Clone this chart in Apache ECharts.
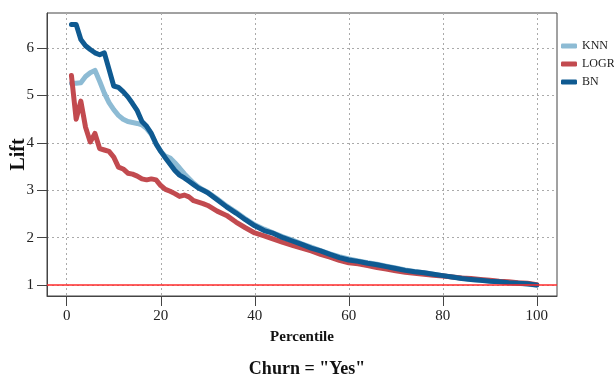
<!DOCTYPE html>
<html><head><meta charset="utf-8">
<script src="https://cdn.jsdelivr.net/npm/echarts@6/dist/echarts.min.js"></script>
<style>html,body{margin:0;padding:0;background:#fff}#c{width:614px;height:374px}</style>
</head><body><div id="c"></div>
<script>
const percentile = [1,2,3,4,5,6,7,8,9,10,11,12,13,14,15,16,17,18,19,20,21,22,23,24,25,26,27,28,29,30,32,34,36,38,40,42,44,46,48,50,52,54,56,58,60,62,64,66,68,70,72,74,76,78,80,82,84,86,88,90,92,94,96,98,100];
const knn = [5.26,5.26,5.27,5.40,5.48,5.53,5.30,5.05,4.85,4.70,4.58,4.50,4.45,4.43,4.41,4.38,4.30,4.18,3.98,3.82,3.72,3.68,3.58,3.47,3.35,3.25,3.15,3.07,3.01,2.96,2.82,2.67,2.54,2.40,2.27,2.18,2.10,2.02,1.95,1.87,1.80,1.73,1.66,1.60,1.55,1.51,1.47,1.44,1.40,1.36,1.32,1.29,1.26,1.23,1.20,1.17,1.15,1.12,1.10,1.09,1.07,1.05,1.04,1.02,1.00];
const logr = [5.42,4.50,4.88,4.33,4.02,4.20,3.88,3.85,3.82,3.70,3.49,3.45,3.36,3.34,3.30,3.24,3.22,3.24,3.22,3.10,3.02,2.98,2.93,2.87,2.90,2.86,2.78,2.75,2.72,2.68,2.56,2.47,2.33,2.21,2.10,2.04,1.97,1.90,1.84,1.78,1.72,1.65,1.59,1.52,1.47,1.45,1.41,1.37,1.34,1.30,1.27,1.25,1.23,1.21,1.19,1.17,1.15,1.14,1.12,1.10,1.08,1.07,1.05,1.04,1.01];
const bn = [6.50,6.50,6.18,6.05,5.97,5.90,5.86,5.90,5.55,5.20,5.17,5.08,4.97,4.83,4.68,4.45,4.35,4.20,3.98,3.82,3.68,3.55,3.42,3.32,3.26,3.19,3.12,3.05,3.00,2.95,2.80,2.65,2.52,2.38,2.25,2.15,2.09,2.00,1.93,1.86,1.78,1.72,1.65,1.58,1.53,1.50,1.46,1.43,1.39,1.35,1.31,1.28,1.26,1.23,1.20,1.17,1.14,1.12,1.10,1.08,1.07,1.05,1.04,1.03,1.00];
const xTicks = [0,20,40,60,80,100];
const yTicks = [1,2,3,4,5,6];
const seriesNames = ['KNN','LOGR','BN'];
const colors = ['#8dbbd4','#c24a4f','#0f5a91'];
const baseline = 1;

const font = 'Liberation Serif';
const chart = echarts.init(document.getElementById('c'));
function pairs(arr){ return percentile.map((p,i)=>[p,arr[i]]); }
const dataSets = [knn, logr, bn];
const series = seriesNames.map((n,i)=>({
  name:n, type:'line', data:pairs(dataSets[i]), showSymbol:false, symbol:'none',
  lineStyle:{width:5, color:colors[i], cap:'round', join:'round'}, itemStyle:{color:colors[i]},
  z: 3+i, animation:false
}));
series[0].markLine = {silent:true, symbol:'none', label:{show:false},
  lineStyle:{color:'#ff2b2b', width:1.6, type:'solid'}, data:[{yAxis:baseline}], z:10};

chart.setOption({
  animation:false,
  backgroundColor:'#fff',
  title:{text:'Churn = "Yes"', left:302, top:355, textAlign:'center',
    textStyle:{fontFamily:font, fontSize:18, fontWeight:'bold', color:'#111'}},
  legend:{orient:'vertical', left:556, top:35, itemWidth:16, itemHeight:5, itemGap:6,
    icon:'roundRect', data:seriesNames,
    textStyle:{fontFamily:font, fontSize:12, color:'#222'}},
  grid:{left:47, right:57, top:13, bottom:78, show:true, borderColor:'#444', borderWidth:1,
    containLabel:false, outerBoundsMode:'none'},
  xAxis:{type:'value', min:-4.2, max:104.3,
    name:'Percentile', nameLocation:'middle', nameGap:34, nameMoveOverlap:false,
    nameTextStyle:{fontFamily:font, fontSize:15, fontWeight:'bold', color:'#111'},
    axisLine:{show:true, onZero:false, lineStyle:{color:'#444', width:1}},
    axisTick:{show:true, length:10, lineStyle:{color:'#444'}, customValues:xTicks},
    axisLabel:{fontFamily:font, fontSize:15, color:'#222', margin:13, customValues:xTicks},
    splitLine:{show:true, lineStyle:{color:'#aaa', type:[2,3], width:1}}},
  yAxis:{type:'value', min:0.77, max:6.74,
    name:'Lift', nameLocation:'middle', nameGap:18, nameRotate:90, nameMoveOverlap:false,
    nameTextStyle:{fontFamily:font, fontSize:20, fontWeight:'bold', color:'#111'},
    axisLine:{show:true, onZero:false, lineStyle:{color:'#444', width:1}},
    axisTick:{show:true, length:10, lineStyle:{color:'#444'}, customValues:yTicks},
    axisLabel:{fontFamily:font, fontSize:15, color:'#222', margin:13, customValues:yTicks},
    splitLine:{show:true, lineStyle:{color:'#aaa', type:[2,3], width:1}}},
  series:series
});
</script></body></html>
